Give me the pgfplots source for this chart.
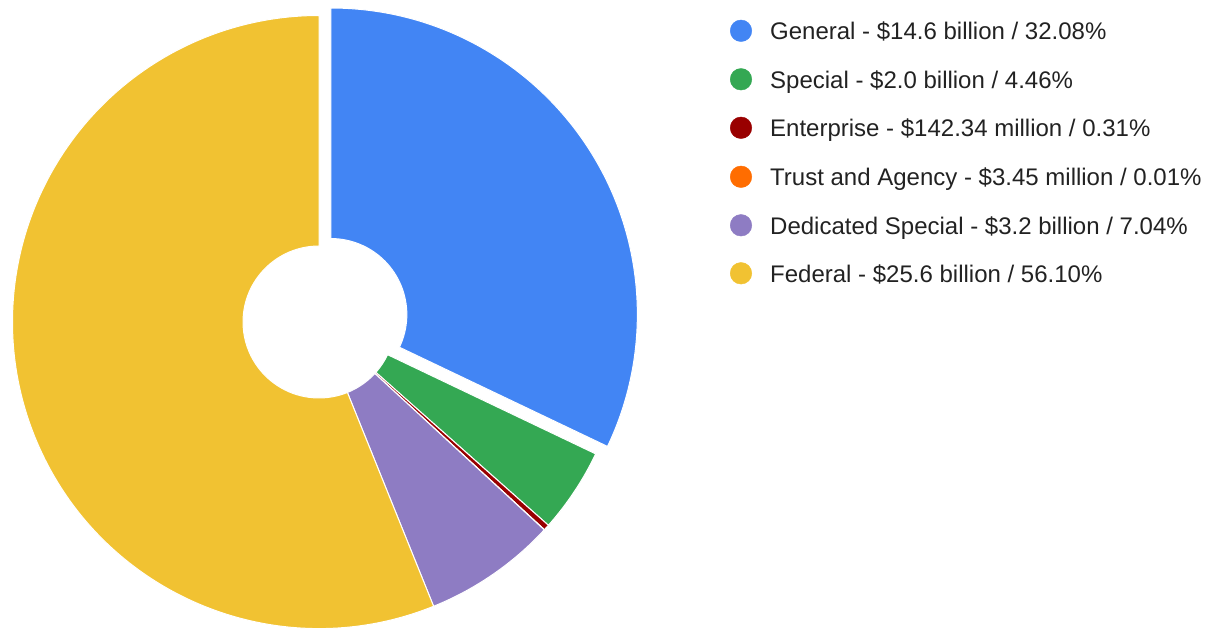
\documentclass[border=0pt]{standalone}
\usepackage{pgfplots}
\usepackage{pgfplotstable}
\pgfplotsset{compat=1.18}
\usepackage{fontspec}
\setmainfont{Liberation Sans}
\definecolor{cGeneral}{HTML}{4285F4}
\definecolor{cSpecial}{HTML}{34A853}
\definecolor{cEnterprise}{HTML}{990000}
\definecolor{cTrust}{HTML}{FF6D01}
\definecolor{cDedicated}{HTML}{8E7CC3}
\definecolor{cFederal}{HTML}{F1C232}
\definecolor{txt}{HTML}{222222}

\pgfplotstableread{
value col
32.08 cGeneral
4.46 cSpecial
0.31 cEnterprise
0.01 cTrust
7.04 cDedicated
56.10 cFederal
}\piedata

\tikzset{legtext/.style={anchor=base west, inner sep=0pt, text=txt, font=\fontsize{24bp}{28bp}\selectfont}}

\begin{document}
\begin{tikzpicture}
\begin{axis}[
  width=1217bp, height=628bp, scale only axis,
  xmin=0, xmax=1217, ymin=-628, ymax=0,
  hide axis,
]
\pgfplotsextra{
  \pgfplotstablegetrowsof{\piedata}
  \pgfmathtruncatemacro{\nrows}{\pgfplotsretval-1}
  \gdef\pcum{0}
  \foreach \k in {0,...,\nrows}{
    \pgfplotstablegetelem{\k}{value}\of\piedata \let\pval\pgfplotsretval
    \pgfplotstablegetelem{\k}{col}\of\piedata \let\pcol\pgfplotsretval
    \pgfmathsetmacro{\sa}{90-\pcum*3.6}
    \pgfmathsetmacro{\ea}{90-(\pcum+\pval)*3.6}
    \pgfmathsetmacro{\poff}{\k==0 ? 14 : 0}
    \pgfmathsetmacro{\pmid}{(\sa+\ea)/2}
    \pgfmathsetmacro{\pcx}{319+\poff*cos(\pmid)}
    \pgfmathsetmacro{\pcy}{-322+\poff*sin(\pmid)}
    \fill[fill=\pcol, draw=white, line width=1bp]
      (axis cs:\pcx,\pcy) ++(\sa:306.5bp)
      arc[start angle=\sa, end angle=\ea, radius=306.5bp]
      -- ++(\ea:-230.5bp)
      arc[start angle=\ea, end angle=\sa, radius=76bp] -- cycle;
    \pgfmathsetmacro{\pnew}{\pcum+\pval}
    \xdef\pcum{\pnew}
  }
}
% legend markers
\addplot[only marks, mark=*, mark size=10.8bp, color=cGeneral] coordinates {(741,-30.8)};
\addplot[only marks, mark=*, mark size=10.8bp, color=cSpecial] coordinates {(741,-79.3)};
\addplot[only marks, mark=*, mark size=10.8bp, color=cEnterprise] coordinates {(741,-127.8)};
\addplot[only marks, mark=*, mark size=10.8bp, color=cTrust] coordinates {(741,-176.8)};
\addplot[only marks, mark=*, mark size=10.8bp, color=cDedicated] coordinates {(741,-225.3)};
\addplot[only marks, mark=*, mark size=10.8bp, color=cFederal] coordinates {(741,-273.3)};
\node[legtext] at (axis cs:770,-39.6) {General - \$14.6 billion / 32.08\%};
\node[legtext] at (axis cs:770,-88.1) {Special - \$2.0 billion / 4.46\%};
\node[legtext] at (axis cs:770,-136.6) {Enterprise - \$142.34 million / 0.31\%};
\node[legtext] at (axis cs:770,-185.6) {Trust and Agency - \$3.45 million / 0.01\%};
\node[legtext] at (axis cs:770,-234.1) {Dedicated Special - \$3.2 billion / 7.04\%};
\node[legtext] at (axis cs:770,-282.1) {Federal - \$25.6 billion / 56.10\%};
\end{axis}
\pgfresetboundingbox
\path[use as bounding box] (current axis.south west) rectangle (current axis.north east);
\end{tikzpicture}
\end{document}
